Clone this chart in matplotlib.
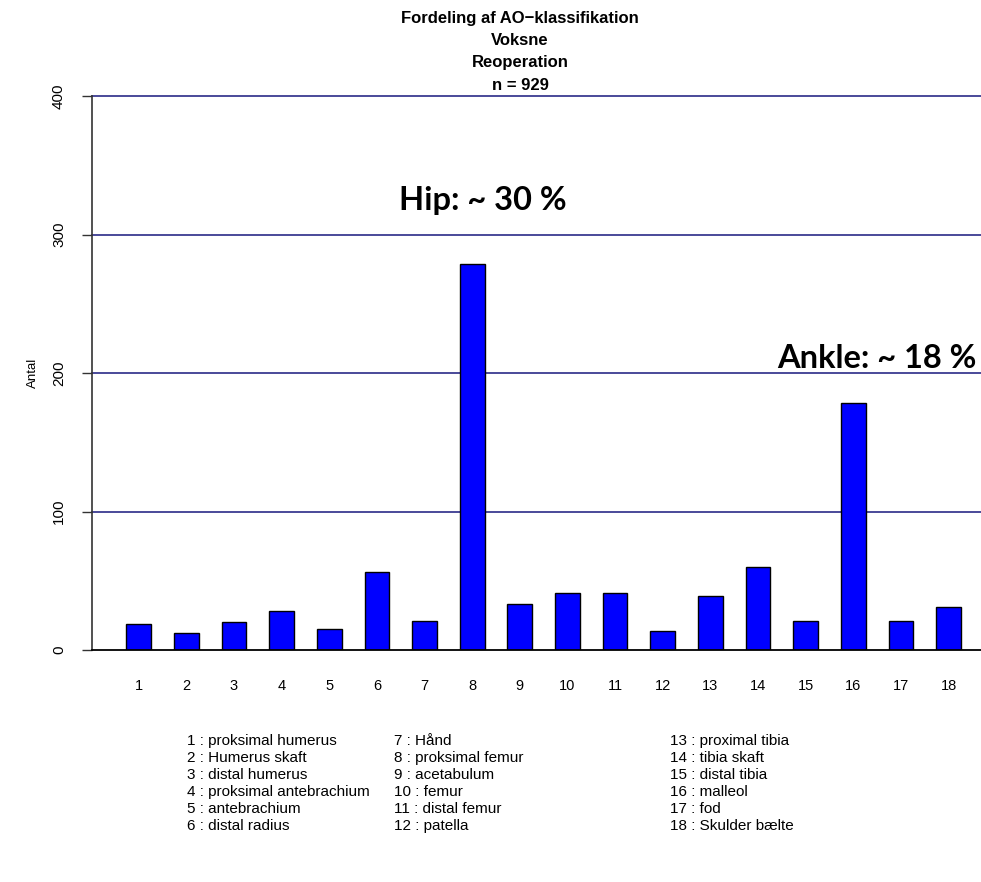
import matplotlib
matplotlib.use("Agg")
import matplotlib.pyplot as plt

categories = [str(i) for i in range(1, 19)]
values = [19, 12, 20, 28, 15, 56, 21, 279, 33, 41, 41, 14, 39, 60, 21, 178, 21, 31]
yticks = [0, 100, 200, 300, 400]
title_lines = ["Fordeling af AO\u2212klassifikation", "Voksne", "Reoperation", "n = 929"]
legend_col1 = ["1 : proksimal humerus", "2 : Humerus skaft", "3 : distal humerus",
               "4 : proksimal antebrachium", "5 : antebrachium", "6 : distal radius"]
legend_col2 = ["7 : Hånd", "8 : proksimal femur", "9 : acetabulum",
               "10 : femur", "11 : distal femur", "12 : patella"]
legend_col3 = ["13 : proximal tibia", "14 : tibia skaft", "15 : distal tibia",
               "16 : malleol", "17 : fod", "18 : Skulder bælte"]
annotations = ["Hip: ~ 30 %", "Ankle: ~ 18 %"]

W, H = 981, 882
fig = plt.figure(figsize=(W / 100, H / 100), dpi=100)
fig.patch.set_facecolor("white")

def fx(px):
    return px / W

def fy(py):
    return 1 - py / H

arial = ["Liberation Sans", "DejaVu Sans"]

ax = fig.add_axes([fx(92), fy(650), fx(981) - fx(92), fy(96) - fy(650)])
x = list(range(1, 19))
ax.bar(x, values, width=0.52, color="#0000FF", edgecolor="black", linewidth=1.0, zorder=3)
ax.set_xlim(0.02, 18.68)
ax.set_ylim(0, 400)

for t in yticks[1:]:
    ax.axhline(t, color="#2b2b88", linewidth=1.2, zorder=1, clip_on=False)
ax.axhline(0, color="black", linewidth=1.3, zorder=4, clip_on=False)

for s in ["top", "right", "bottom"]:
    ax.spines[s].set_visible(False)
ax.spines["left"].set_color("#333333")
ax.spines["left"].set_linewidth(1.2)

ax.set_yticks(yticks)
ax.set_yticklabels([str(t) for t in yticks], rotation=90, va="center", family=arial, fontsize=11)
ax.tick_params(axis="y", length=7.2, width=1.0, color="#333333", pad=11.5)
ax.set_xticks(x)
ax.set_xticklabels(categories, family=arial, fontsize=10.5)
ax.tick_params(axis="x", length=0, pad=21)

fig.text(fx(33), fy(373), "Antal", rotation=90, ha="center", va="center", family=arial, fontsize=9.5)

for i, line in enumerate(title_lines):
    fig.text(fx(520), fy(18 + i * 22.5), line, ha="center", va="center",
             family=arial, fontweight="bold", fontsize=12)

fig.text(fx(399), fy(210), annotations[0], ha="left", va="baseline",
         family=["Lato", "DejaVu Sans"], fontweight="bold", fontsize=23.5)
fig.text(fx(777), fy(368), annotations[1], ha="left", va="baseline",
         family=["Lato", "DejaVu Sans"], fontweight="bold", fontsize=23.5)

for col, xs in [(legend_col1, 187), (legend_col2, 394), (legend_col3, 670)]:
    for j, txt in enumerate(col):
        fig.text(fx(xs), fy(741 + j * 17), txt, ha="left", va="center",
                 family=arial, fontsize=11)

fig.savefig("out.png", dpi=100, facecolor="white")
